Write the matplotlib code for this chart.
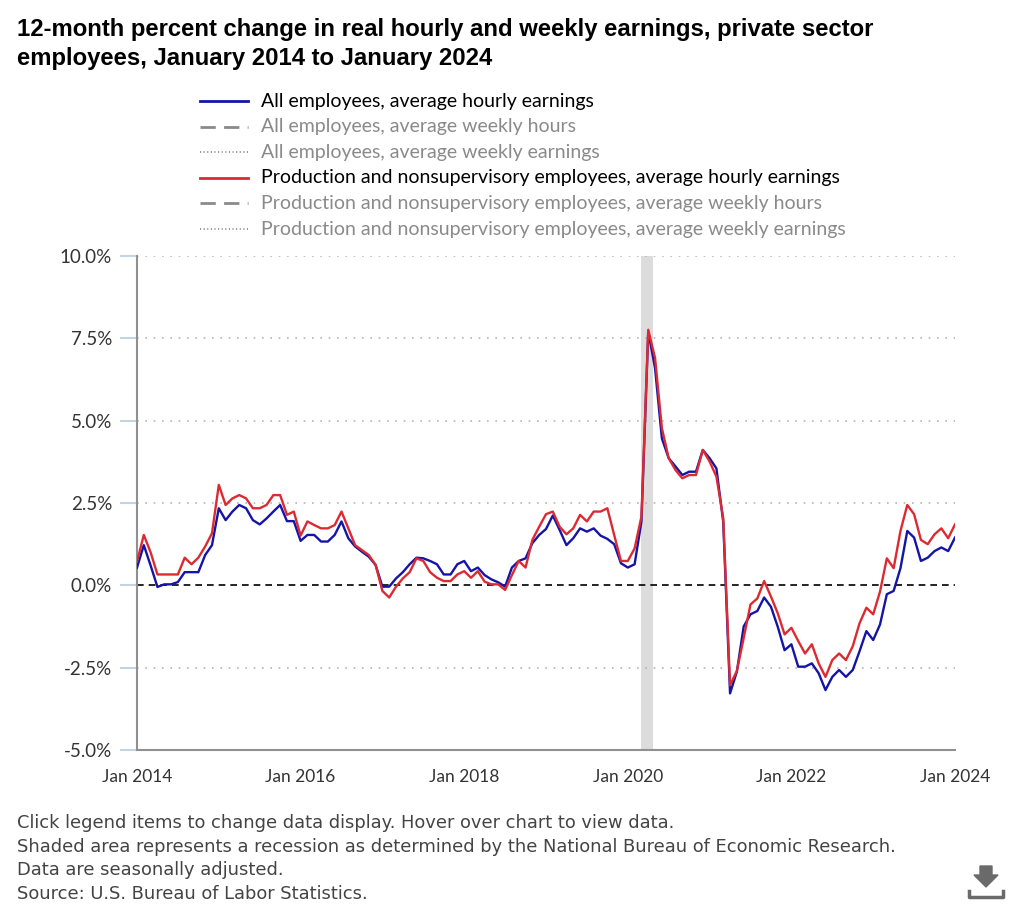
import numpy as np
import matplotlib
matplotlib.use("Agg")
import matplotlib.pyplot as plt
from matplotlib.lines import Line2D
from matplotlib.patches import Polygon

# monthly data, Jan 2014 .. Jan 2024 (percent)
all_hourly = [
    0.54, 1.22, 0.60, -0.05, 0.03, 0.03, 0.10, 0.40, 0.40, 0.40, 0.92, 1.22,
    2.34, 1.98, 2.24, 2.44, 2.34, 1.98, 1.85, 2.03, 2.24, 2.44, 1.95, 1.95,
    1.35, 1.53, 1.53, 1.33, 1.33, 1.53, 1.94, 1.43, 1.18, 1.02, 0.87, 0.62,
    -0.04, -0.04, 0.21, 0.40, 0.64, 0.84, 0.82, 0.74, 0.64, 0.33, 0.33, 0.64,
    0.74, 0.43, 0.54, 0.31, 0.18, 0.09, -0.04, 0.54, 0.74, 0.82, 1.28, 1.53,
    1.71, 2.12, 1.68, 1.22, 1.43, 1.73, 1.63, 1.73, 1.51, 1.41, 1.25, 0.67,
    0.54, 0.64, 1.94, 7.70, 6.59, 4.46, 3.86, 3.61, 3.35, 3.45, 3.45, 4.11,
    3.86, 3.55, 1.93, -3.28, -2.62, -1.25, -0.88, -0.78, -0.37, -0.65, -1.26, -1.97,
    -1.79, -2.47, -2.47, -2.37, -2.67, -3.18, -2.78, -2.57, -2.78, -2.57, -2.00, -1.39,
    -1.66, -1.19, -0.27, -0.17, 0.52, 1.65, 1.45, 0.74, 0.84, 1.04, 1.15, 1.04,
    1.45,
]
prod_hourly = [
    0.72, 1.53, 1.00, 0.33, 0.33, 0.33, 0.33, 0.84, 0.64, 0.84, 1.18, 1.58,
    3.05, 2.44, 2.64, 2.74, 2.64, 2.34, 2.34, 2.44, 2.74, 2.74, 2.14, 2.24,
    1.51, 1.94, 1.83, 1.73, 1.73, 1.83, 2.24, 1.73, 1.22, 1.07, 0.92, 0.62,
    -0.17, -0.37, -0.04, 0.21, 0.40, 0.82, 0.74, 0.40, 0.23, 0.13, 0.13, 0.33,
    0.43, 0.23, 0.43, 0.11, 0.03, 0.03, -0.14, 0.31, 0.74, 0.54, 1.38, 1.78,
    2.16, 2.24, 1.78, 1.55, 1.73, 2.14, 1.94, 2.24, 2.24, 2.34, 1.53, 0.74,
    0.74, 1.12, 2.09, 7.76, 6.90, 4.77, 3.86, 3.50, 3.25, 3.35, 3.35, 4.11,
    3.76, 3.30, 2.04, -3.03, -2.60, -1.60, -0.58, -0.40, 0.13, -0.34, -0.85, -1.49,
    -1.29, -1.69, -2.07, -1.79, -2.37, -2.78, -2.27, -2.07, -2.27, -1.85, -1.15, -0.68,
    -0.88, -0.19, 0.82, 0.52, 1.65, 2.44, 2.16, 1.38, 1.25, 1.55, 1.73, 1.43,
    1.85,
]
tick_labels = ["Jan 2014", "Jan 2016", "Jan 2018", "Jan 2020", "Jan 2022", "Jan 2024"]
y_ticks = [-5, -2.5, 0, 2.5, 5, 7.5, 10]
recession = (73.9, 75.7)  # months since Jan 2014

legend_labels = [
    "All employees, average hourly earnings",
    "All employees, average weekly hours",
    "All employees, average weekly earnings",
    "Production and nonsupervisory employees, average hourly earnings",
    "Production and nonsupervisory employees, average weekly hours",
    "Production and nonsupervisory employees, average weekly earnings",
]

blue = "#1414a6"
red = "#dc2a33"
grey = "#8a8a8a"

months = np.arange(len(all_hourly))

fig = plt.figure(figsize=(10.24, 9.05), dpi=100)
ax = fig.add_axes([137/1024, 1-750/905, (955-137)/1024, (750-256)/905])

ax.axvspan(recession[0], recession[1], color="#dcdcdc", lw=0, zorder=0)
for yv in y_ticks:
    if yv not in (0, -5):
        ax.axhline(yv, color="#b5b5b5", lw=1.2, ls=(0, (1, 4)), zorder=1)
ax.axhline(0, color="black", lw=1.2, ls=(0, (4, 3)), zorder=2)

ax.plot(months, all_hourly, color=blue, lw=1.7, zorder=3)
ax.plot(months, prod_hourly, color=red, lw=1.7, zorder=4)

ax.set_xlim(0, 120)
ax.set_ylim(-5, 10)
ax.set_xticks(np.arange(0, 121, 24))
ax.set_xticklabels(tick_labels)
ax.set_yticks(y_ticks)
ax.set_yticklabels([f"{v:.1f}%" for v in y_ticks])
for s in ["top", "right"]:
    ax.spines[s].set_visible(False)
for s in ["left", "bottom"]:
    ax.spines[s].set_color("#909090")
    ax.spines[s].set_linewidth(1.5)
ax.tick_params(axis="y", length=12, width=1.5, color="#c4d4e4", pad=6,
               labelsize=13.5, labelcolor="#333333")
ax.tick_params(axis="x", length=0, pad=14, labelsize=12.5, labelcolor="#333333")
for lab in ax.get_xticklabels() + ax.get_yticklabels():
    lab.set_family("Lato")

# title
title_lines = ["12-month percent change in real hourly and weekly earnings, private sector",
               "employees, January 2014 to January 2024"]
for i, t in enumerate(title_lines):
    fig.text(17/1024, 1-(36 + i*29)/905, t, fontsize=17.2, fontweight="bold",
             family="Liberation Sans", va="baseline", ha="left")

# legend
styles = [
    (blue, "-", "black"),
    (grey, (0, (5.5, 3)), grey),
    (grey, (0, (0.6, 1.4)), grey),
    (red, "-", "black"),
    (grey, (0, (5.5, 3)), grey),
    (grey, (0, (0.6, 1.4)), grey),
]
for i, (lab, (lc, ls, tc)) in enumerate(zip(legend_labels, styles)):
    yy = 1 - (101 + i*25.6)/905
    fig.add_artist(Line2D([200/1024, 248/1024], [yy, yy], color=lc, ls=ls,
                          lw=1.3 if ls == (0, (0.6, 1.4)) else 2,
                          transform=fig.transFigure))
    fig.text(261/1024, yy, lab, fontsize=14, family="Lato", color=tc, va="center")

# notes
notes = ["Click legend items to change data display. Hover over chart to view data.",
         "Shaded area represents a recession as determined by the National Bureau of Economic Research.",
         "Data are seasonally adjusted.",
         "Source: U.S. Bureau of Labor Statistics."]
for i, n in enumerate(notes):
    fig.text(17/1024, 1-(823 + i*23.5)/905, n, fontsize=12.9, family="DejaVu Sans",
             color="#444444", va="center")

# download icon
icon = "#6a6a6a"
fig.add_artist(Polygon([[980/1024, 1-866/905], [992/1024, 1-866/905], [992/1024, 1-875/905],
                        [998/1024, 1-875/905], [986/1024, 1-887/905], [974/1024, 1-875/905],
                        [980/1024, 1-875/905]], closed=True, color=icon,
                       transform=fig.transFigure))
fig.add_artist(Line2D([969/1024, 969/1024, 1003/1024, 1003/1024],
                      [1-891/905, 1-897/905, 1-897/905, 1-891/905],
                      color=icon, lw=2.5, transform=fig.transFigure))

fig.savefig("out.png", dpi=100)
